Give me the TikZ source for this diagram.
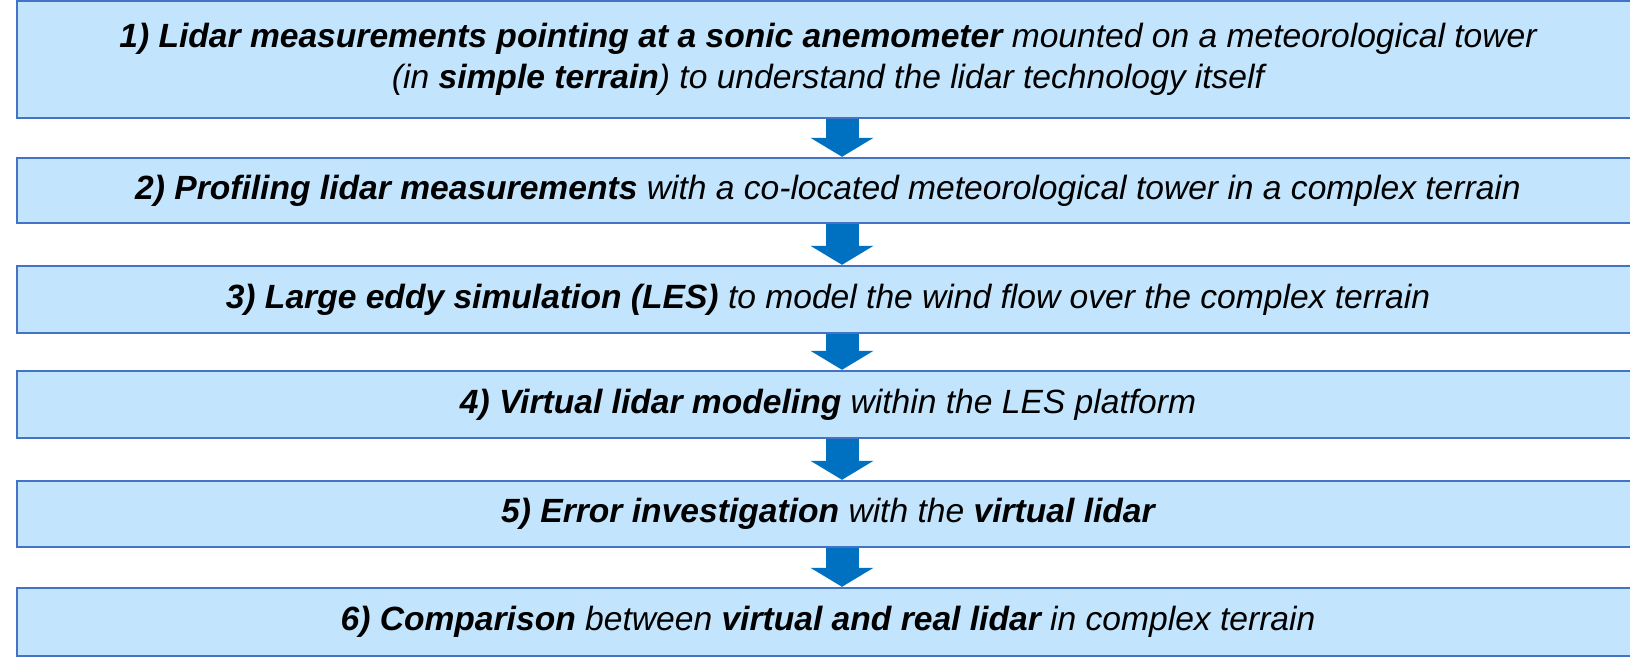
\documentclass[tikz,border=0pt]{standalone}
\usepackage{fontspec}
\setmainfont{Liberation Sans}
\usetikzlibrary{positioning}
\usetikzlibrary{arrows.meta}
\definecolor{boxfill}{RGB}{194,228,252}
\definecolor{boxline}{RGB}{68,114,196}
\definecolor{flowblue}{RGB}{0,112,192}
\tikzset{
  stepbox/.style={draw=boxline, fill=boxfill, line width=1.2pt, minimum width=811pt,
    inner sep=0pt, align=center, font=\fontsize{16.8}{20.5}\selectfont\itshape},
  flow/.style={draw=flowblue, line width=16.5pt,
    -{Triangle[width=31.5pt, length=9.5pt, line width=0pt, fill=flowblue]}}
}

\begin{document}
\begin{tikzpicture}[x=0.5pt, y=-0.5pt]
\useasboundingbox (0,0) rectangle (1630,659);
% steps of the study
\node[stepbox, minimum height=58.5pt] (sonic) at (828,59.5)
  {\textbf{1) Lidar measurements pointing at a sonic anemometer} mounted on a meteorological tower\\
   (in \textbf{simple terrain}) to understand the lidar technology itself};
\node[stepbox, minimum height=32.5pt] (profile) at (828,190.5)
  {\textbf{2) Profiling lidar measurements} with a co-located meteorological tower in a complex terrain};
\node[stepbox, minimum height=33.5pt] (les) at (828,299.5)
  {\textbf{3) Large eddy simulation (LES)} to model the wind flow over the complex terrain};
\node[stepbox, minimum height=33.5pt] (virtual) at (828,404.5)
  {\textbf{4) Virtual lidar modeling} within the LES platform};
\node[stepbox, minimum height=33pt] (error) at (828,514)
  {\textbf{5) Error investigation} with the \textbf{virtual lidar}};
\node[stepbox, minimum height=34pt] (compare) at (828,622)
  {\textbf{6) Comparison} between \textbf{virtual and real lidar} in complex terrain};
% arrows between the steps
\coordinate (ax) at (842,0);
\foreach \a/\b in {sonic/profile, profile/les, les/virtual, virtual/error, error/compare}
  \draw[flow] (\a.south -| ax) -- (\b.north -| ax);
\end{tikzpicture}
\end{document}
